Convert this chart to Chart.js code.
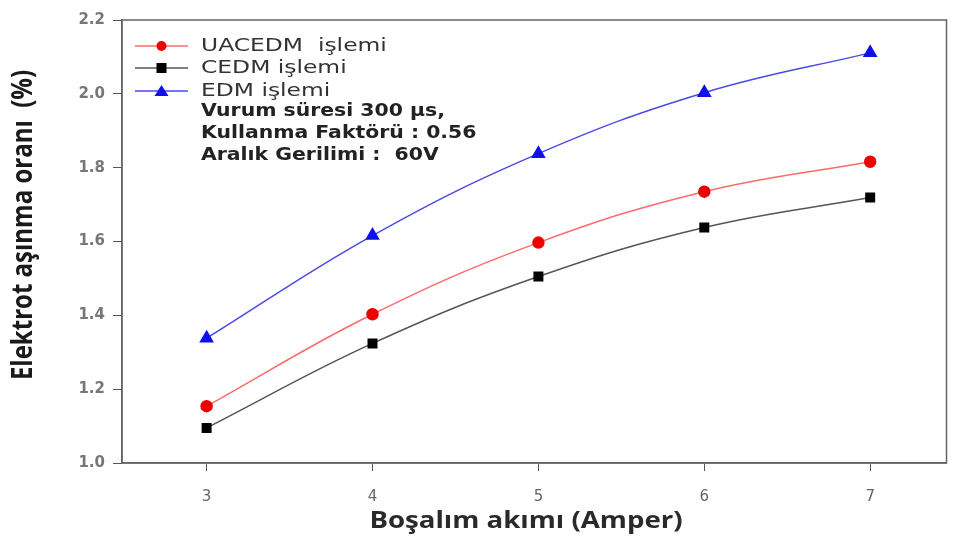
<!DOCTYPE html>
<html lang="tr">
<head>
    <meta charset="UTF-8">
    <title>Elektrot aşınma oranı</title>
    <script src="https://cdn.jsdelivr.net/npm/chart.js@4.4.0/dist/chart.umd.min.js"></script>
    <style>
        html, body { margin: 0; padding: 0; background: #fff; overflow: hidden; }
        #wearChart { display: block; }
    </style>
</head>
<body>
    <canvas id="wearChart" width="955" height="538"></canvas>

    <script>
        // data
        const currents = [3, 4, 5, 6, 7];
        const uacedm = [1.154, 1.403, 1.597, 1.735, 1.816];
        const cedm = [1.095, 1.324, 1.505, 1.638, 1.719];
        const edm = [1.338, 1.616, 1.838, 2.003, 2.111];
        const xTicks = [3, 4, 5, 6, 7];
        const yTicks = [1.0, 1.2, 1.4, 1.6, 1.8, 2.0, 2.2];
        const seriesNames = ['UACEDM  işlemi', 'CEDM işlemi', 'EDM işlemi'];
        const notes = ['Vurum süresi 300 µs,', 'Kullanma Faktörü : 0.56', 'Aralık Gerilimi :  60V'];
        const xTitle = 'Boşalım akımı (Amper)';
        const yTitle = 'Elektrot aşınma oranı  (%)';

        const toPoints = arr => arr.map((v, i) => ({ x: currents[i], y: v }));

        // the original figure is a bit stretched sideways, so text is drawn with a small x-scale
        function stretchText(ctx, text, x, y, font, color, sx, align, rot) {
            ctx.save();
            ctx.translate(x, y);
            ctx.scale(sx, 1);
            if (rot) ctx.rotate(rot);
            ctx.font = font;
            ctx.fillStyle = color;
            ctx.textAlign = align;
            ctx.textBaseline = 'middle';
            ctx.fillText(text, 0, 0);
            ctx.restore();
        }

        const framePlugin = {
            id: 'frameLegend',
            afterDraw(chart) {
                const { ctx, chartArea: a } = chart;
                ctx.save();
                ctx.strokeStyle = '#666';
                ctx.lineWidth = 1.5;
                ctx.strokeRect(a.left, a.top, a.right - a.left, a.bottom - a.top);

                const x0 = a.left + 13, x1 = a.left + 66, tx = a.left + 79;
                const rows = [46, 68, 91];
                chart.data.datasets.forEach((ds, i) => {
                    const y = rows[i];
                    ctx.strokeStyle = ds.borderColor;
                    ctx.lineWidth = 1.5;
                    ctx.beginPath(); ctx.moveTo(x0, y); ctx.lineTo(x1, y); ctx.stroke();
                    ctx.fillStyle = ds.pointBackgroundColor;
                    const cx = (x0 + x1) / 2;
                    if (ds.pointStyle === 'circle') {
                        ctx.beginPath(); ctx.arc(cx, y, 5, 0, Math.PI * 2); ctx.fill();
                    } else if (ds.pointStyle === 'rect') {
                        ctx.fillRect(cx - 5, y - 5, 10, 10);
                    } else {
                        ctx.beginPath(); ctx.moveTo(cx, y - 6); ctx.lineTo(cx + 7, y + 5); ctx.lineTo(cx - 7, y + 5); ctx.closePath(); ctx.fill();
                    }
                    stretchText(ctx, seriesNames[i], tx, y, '18px "DejaVu Sans", sans-serif', '#333', 1.3, 'left');
                });
                notes.forEach((t, i) => {
                    stretchText(ctx, t, tx, 112 + i * 22, 'bold 17px "DejaVu Sans", sans-serif', '#222', 1.2, 'left');
                });

                // axis titles
                stretchText(ctx, xTitle, 526, 521, 'bold 24px "Open Sans", sans-serif', '#2a2a2a', 1.15, 'center');
                stretchText(ctx, yTitle, 24, 225, 'bold 24px "Open Sans", sans-serif', '#1a1a1a', 1.2, 'center', -Math.PI / 2);
                ctx.restore();
            }
        };

        function drawChart() {
            const ctx = document.getElementById('wearChart').getContext('2d');
            new Chart(ctx, {
                type: 'line',
                data: {
                    datasets: [
                        {
                            label: seriesNames[0],
                            data: toPoints(uacedm),
                            borderColor: '#ff6a6a',
                            pointBackgroundColor: '#ee0000',
                            pointBorderColor: '#ee0000',
                            pointStyle: 'circle',
                            pointRadius: 5.5,
                            borderWidth: 1.5,
                            tension: 0.4
                        },
                        {
                            label: seriesNames[1],
                            data: toPoints(cedm),
                            borderColor: '#555555',
                            pointBackgroundColor: '#000000',
                            pointBorderColor: '#000000',
                            pointStyle: 'rect',
                            pointRadius: 6,
                            borderWidth: 1.5,
                            tension: 0.4
                        },
                        {
                            label: seriesNames[2],
                            data: toPoints(edm),
                            borderColor: '#4a4ae6',
                            pointBackgroundColor: '#1010ee',
                            pointBorderColor: '#1010ee',
                            pointStyle: 'triangle',
                            pointRadius: 7,
                            borderWidth: 1.5,
                            tension: 0.4
                        }
                    ]
                },
                options: {
                    responsive: false,
                    animation: false,
                    layout: { padding: { top: 20, right: 5, left: 0, bottom: 0 } },
                    plugins: { legend: { display: false }, tooltip: { enabled: false } },
                    scales: {
                        x: {
                            type: 'linear',
                            min: 2.49,
                            max: 7.46,
                            afterBuildTicks: s => { s.ticks = xTicks.map(v => ({ value: v })); },
                            afterFit: s => { s.height = 75; s.paddingRight = 0; s.paddingLeft = 0; },
                            grid: { drawOnChartArea: false, tickLength: 8, color: '#555' },
                            border: { color: '#666', width: 1.5 },
                            ticks: { color: '#666', font: { size: 15, family: 'DejaVu Sans' }, padding: 17 }
                        },
                        y: {
                            min: 1.0,
                            max: 2.2,
                            afterBuildTicks: s => { s.ticks = yTicks.map(v => ({ value: v })); },
                            afterFit: s => { s.width = 122; },
                            grid: { drawOnChartArea: false, tickLength: 9, color: '#555' },
                            border: { color: '#666', width: 1.5 },
                            ticks: {
                                color: '#777',
                                font: { size: 15, weight: 'bold', family: 'DejaVu Sans' },
                                padding: 8,
                                callback: v => v.toFixed(1)
                            }
                        }
                    }
                },
                plugins: [framePlugin]
            });
        }

        // make sure the canvas text fonts are ready before drawing
        Promise.all([
            document.fonts.load('bold 24px "Open Sans"'),
            document.fonts.load('18px "DejaVu Sans"'),
            document.fonts.load('bold 17px "DejaVu Sans"')
        ]).then(drawChart, drawChart);
    </script>
</body>
</html>
